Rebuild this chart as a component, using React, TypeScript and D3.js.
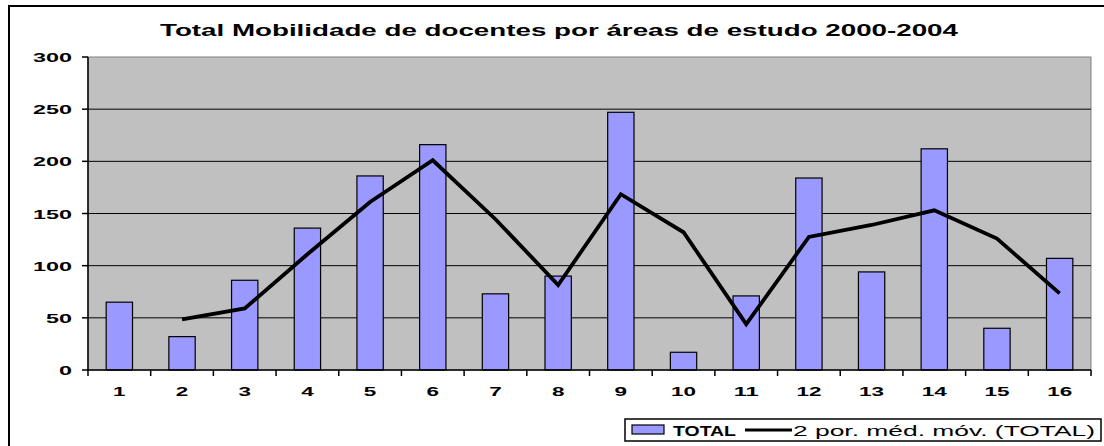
import React from 'react';
import * as d3 from 'd3';

const categories = ['1', '2', '3', '4', '5', '6', '7', '8', '9', '10', '11', '12', '13', '14', '15', '16'];
const totals = [65, 32, 86, 136, 186, 216, 73, 90, 247, 17, 71, 184, 94, 212, 40, 107];
const yTicks = [0, 50, 100, 150, 200, 250, 300];

const W = 1104;
const H = 446;
const plot = { left: 88, top: 57, right: 1091, bottom: 370 };
const font = '"Liberation Sans", Arial, sans-serif';

const App: React.FC = () => {
  const x = d3.scaleBand<string>()
    .domain(categories)
    .range([plot.left, plot.right])
    .paddingInner(0.58)
    .paddingOuter(0.29);

  const y = d3.scaleLinear().domain([0, 300]).range([plot.bottom, plot.top]);

  // 2-period moving average, starting at the second category
  const avg = totals.slice(1).map((v, i) => ({ cat: categories[i + 1], v: (v + totals[i]) / 2 }));
  const line = d3.line<{ cat: string; v: number }>()
    .x(d => (x(d.cat) ?? 0) + x.bandwidth() / 2)
    .y(d => y(d.v));

  const step = (plot.right - plot.left) / categories.length;

  return (
    <svg width={W} height={H} style={{ position: 'absolute', left: 0, top: 0 }}>
      <rect x={0} y={0} width={W} height={H} fill="#fff" />
      <rect x={9} y={6} width={W + 10} height={H + 10} fill="none" stroke="#000" strokeWidth={2} />

      <text x={160} y={36} textLength={798} lengthAdjust="spacingAndGlyphs"
        fontFamily={font} fontWeight="bold" fontSize={16.5}>
        Total Mobilidade de docentes por áreas de estudo 2000-2004
      </text>

      <rect x={plot.left} y={plot.top} width={plot.right - plot.left} height={plot.bottom - plot.top}
        fill="#c0c0c0" stroke="#808080" strokeWidth={1} />

      {yTicks.filter(t => t > 0 && t < 300).map(t => (
        <line key={t} x1={plot.left} x2={plot.right} y1={y(t)} y2={y(t)} stroke="#000" strokeWidth={1} />
      ))}

      {totals.map((v, i) => (
        <rect key={i} x={x(categories[i])} y={y(v)} width={x.bandwidth()} height={plot.bottom - y(v)}
          fill="#9999ff" stroke="#000" strokeWidth={1.2} />
      ))}

      <path d={line(avg) ?? ''} fill="none" stroke="#000" strokeWidth={3.8} strokeLinejoin="miter" />

      <line x1={plot.left} x2={plot.left} y1={plot.top} y2={plot.bottom} stroke="#000" strokeWidth={1.5} />
      <line x1={plot.left} x2={plot.right} y1={plot.bottom} y2={plot.bottom} stroke="#000" strokeWidth={1.5} />

      {yTicks.map(t => {
        const s = String(t);
        return (
          <g key={t}>
            <line x1={plot.left - 6} x2={plot.left} y1={y(t)} y2={y(t)} stroke="#000" strokeWidth={1.5} />
            <text x={72 - 13 * s.length} y={y(t) + 5} textLength={13 * s.length} lengthAdjust="spacingAndGlyphs"
              fontFamily={font} fontWeight="bold" fontSize={13}>{s}</text>
          </g>
        );
      })}

      {d3.range(categories.length + 1).map(k => (
        <line key={k} x1={plot.left + k * step} x2={plot.left + k * step} y1={plot.bottom} y2={plot.bottom + 6}
          stroke="#000" strokeWidth={1.5} />
      ))}
      {categories.map(c => {
        const cx = (x(c) ?? 0) + x.bandwidth() / 2;
        const w = 12.5 * c.length;
        return (
          <text key={c} x={cx - w / 2} y={396} textLength={w} lengthAdjust="spacingAndGlyphs"
            fontFamily={font} fontWeight="bold" fontSize={13}>{c}</text>
        );
      })}

      <g>
        <rect x={625} y={419} width={476} height={22} fill="#fff" stroke="#000" strokeWidth={1.5} />
        <rect x={632} y={425} width={32} height={9} fill="#9999ff" stroke="#000" strokeWidth={1.2} />
        <text x={673} y={436} textLength={63} lengthAdjust="spacingAndGlyphs"
          fontFamily={font} fontWeight="bold" fontSize={15}>TOTAL</text>
        <line x1={745} x2={792} y1={430} y2={430} stroke="#000" strokeWidth={3} />
        <text x={793} y={436} textLength={302} lengthAdjust="spacingAndGlyphs"
          fontFamily={font} fontSize={15}>2 por. méd. móv. (TOTAL)</text>
      </g>
    </svg>
  );
};

export default App;
